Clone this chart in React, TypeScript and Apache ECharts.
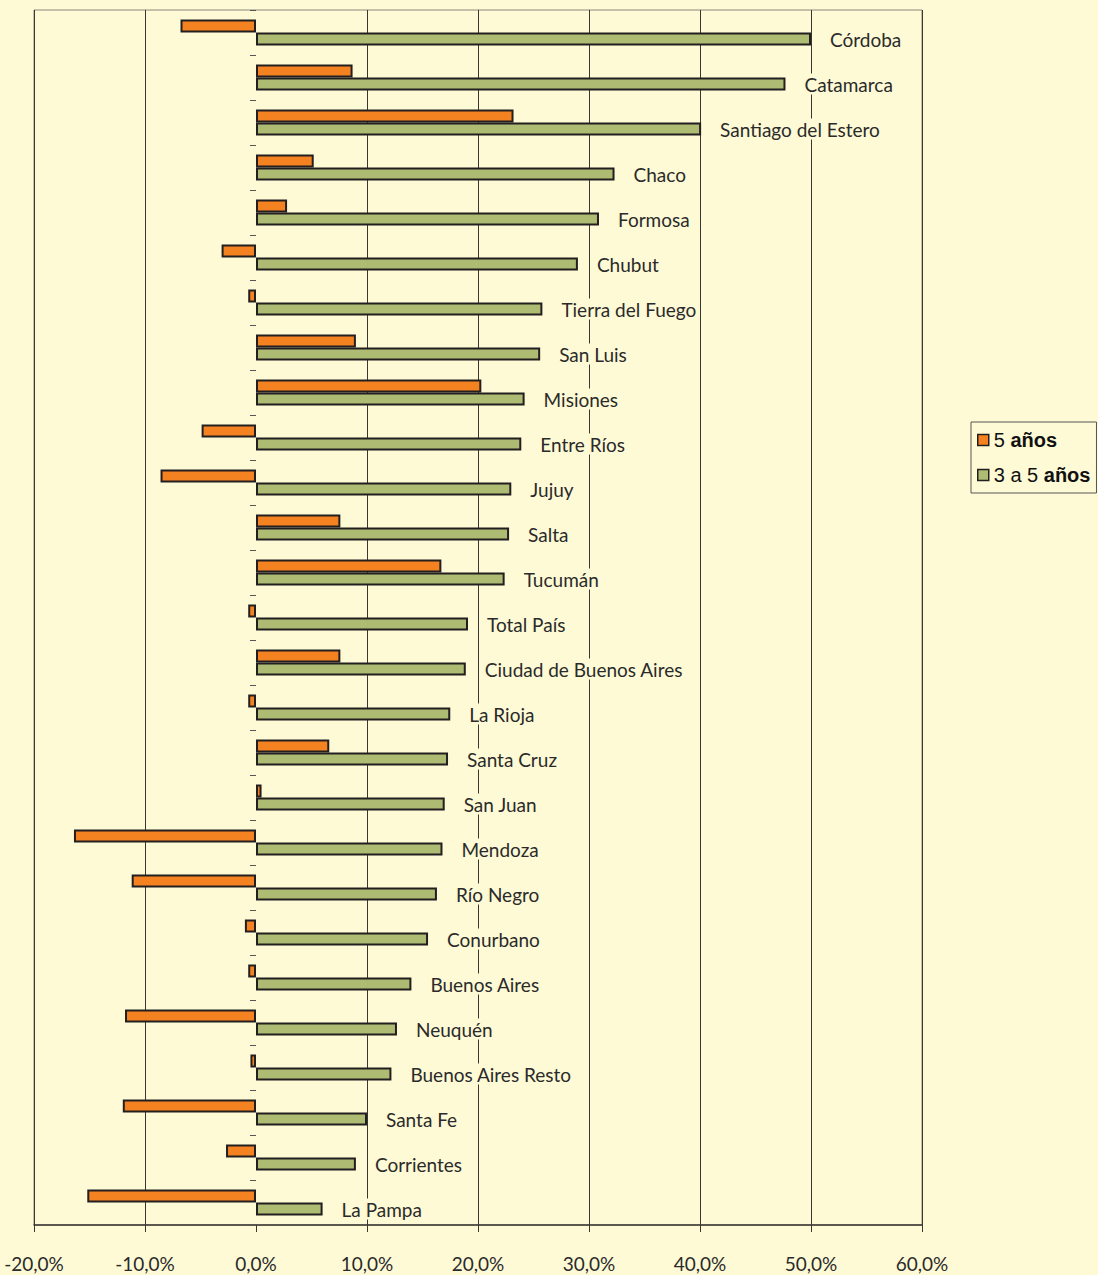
import React, { useEffect, useRef } from "react";
import * as echarts from "echarts";

const categories = [
  "Córdoba", "Catamarca", "Santiago del Estero", "Chaco", "Formosa", "Chubut",
  "Tierra del Fuego", "San Luis", "Misiones", "Entre Ríos", "Jujuy", "Salta",
  "Tucumán", "Total País", "Ciudad de Buenos Aires", "La Rioja", "Santa Cruz",
  "San Juan", "Mendoza", "Río Negro", "Conurbano", "Buenos Aires", "Neuquén",
  "Buenos Aires Resto", "Santa Fe", "Corrientes", "La Pampa",
];

const cincoAnios = [
  -6.8, 8.7, 23.2, 5.2, 2.8, -3.1, -0.7, 9.0, 20.3, -4.9, -8.6, 7.6, 16.7, -0.7,
  7.6, -0.7, 6.6, 0.5, -16.4, -11.2, -1.0, -0.7, -11.8, -0.5, -12.0, -2.7, -15.2,
];

const tresACincoAnios = [
  50.0, 47.7, 40.1, 32.3, 30.9, 29.0, 25.8, 25.6, 24.2, 23.9, 23.0, 22.8, 22.4,
  19.1, 18.9, 17.5, 17.3, 17.0, 16.8, 16.3, 15.5, 14.0, 12.7, 12.2, 10.0, 9.0, 6.0,
];

const seriesNames = ["5 años", "3 a 5 años"];
const xMin = -20;
const xMax = 60;
const xStep = 10;

const BG = "#FFFAD6";
const ORANGE = "#F58220";
const GREEN = "#AEBB72";
const EDGE = "#231F20";
const TEXT = "#2a2a2a";
const FONT = "Lato";

export default function App() {
  const ref = useRef<HTMLDivElement>(null);

  useEffect(() => {
    if (!ref.current) return;
    const chart = echarts.init(ref.current, null, { renderer: "svg" });
    const tickCount = Math.round((xMax - xMin) / xStep) + 1;
    const splitColors: string[] = [];
    for (let i = 0; i < tickCount; i++) {
      const v = xMin + i * xStep;
      splitColors.push(v === 0 ? "rgba(0,0,0,0)" : "#3a3632");
    }
    chart.setOption({
      animation: false,
      backgroundColor: BG,
      grid: {
        left: 34,
        right: 176,
        top: 10,
        bottom: 50,
        show: true,
        borderColor: "#8a877a",
        borderWidth: 1,
        backgroundColor: "transparent",
      },
      legend: {
        orient: "vertical",
        left: 971,
        top: 422,
        padding: [8, 6, 8, 6],
        itemWidth: 11,
        itemHeight: 11,
        itemGap: 15,
        backgroundColor: BG,
        borderColor: "#555",
        borderWidth: 1,
        borderRadius: 0,
        icon: "rect",
        itemStyle: { borderColor: EDGE, borderWidth: 1.5 },
        data: seriesNames,
        formatter: (name: string) => {
          const i = name.lastIndexOf("años");
          return `{n|${name.slice(0, i)}}{b|años}`;
        },
        textStyle: {
          rich: {
            n: { fontFamily: "Liberation Sans", fontSize: 20, color: "#111" },
            b: { fontFamily: "Liberation Sans", fontSize: 20, fontWeight: "bold", color: "#111" },
          },
        },
      },
      xAxis: {
        type: "value",
        min: xMin,
        max: xMax,
        interval: xStep,
        position: "bottom",
        axisLine: { show: true, onZero: false, lineStyle: { color: "#3a3632", width: 1.5 } },
        axisTick: { show: true, length: 7, lineStyle: { color: "#3a3632" } },
        splitLine: { show: true, lineStyle: { color: splitColors, width: 1 } },
        axisLabel: {
          margin: 29,
          fontFamily: FONT,
          fontSize: 19,
          color: TEXT,
          formatter: (v: number) => v.toFixed(1).replace(".", ",") + "%",
        },
      },
      yAxis: {
        type: "category",
        data: categories,
        inverse: true,
        axisLine: { show: false },
        axisTick: { show: true, length: 6, lineStyle: { color: "#555" } },
        axisLabel: { show: false },
        splitLine: { show: false },
      },
      series: [
        {
          name: seriesNames[0],
          type: "bar",
          data: cincoAnios,
          barWidth: 13,
          barGap: "0%",
          itemStyle: { color: ORANGE, borderColor: EDGE, borderWidth: 2 },
        },
        {
          name: seriesNames[1],
          type: "bar",
          data: tresACincoAnios,
          barWidth: 13,
          barGap: "0%",
          itemStyle: { color: GREEN, borderColor: EDGE, borderWidth: 2 },
          label: {
            show: true,
            position: "right",
            distance: 17,
            formatter: (p: any) => categories[p.dataIndex],
            fontFamily: FONT,
            fontSize: 19,
            color: TEXT,
            backgroundColor: BG,
            padding: [1, 2, 1, 2],
          },
        },
      ],
    });
    return () => chart.dispose();
  }, []);

  return (
    <div
      ref={ref}
      style={{ position: "absolute", left: 0, top: 0, width: 1098, height: 1275 }}
    />
  );
}
